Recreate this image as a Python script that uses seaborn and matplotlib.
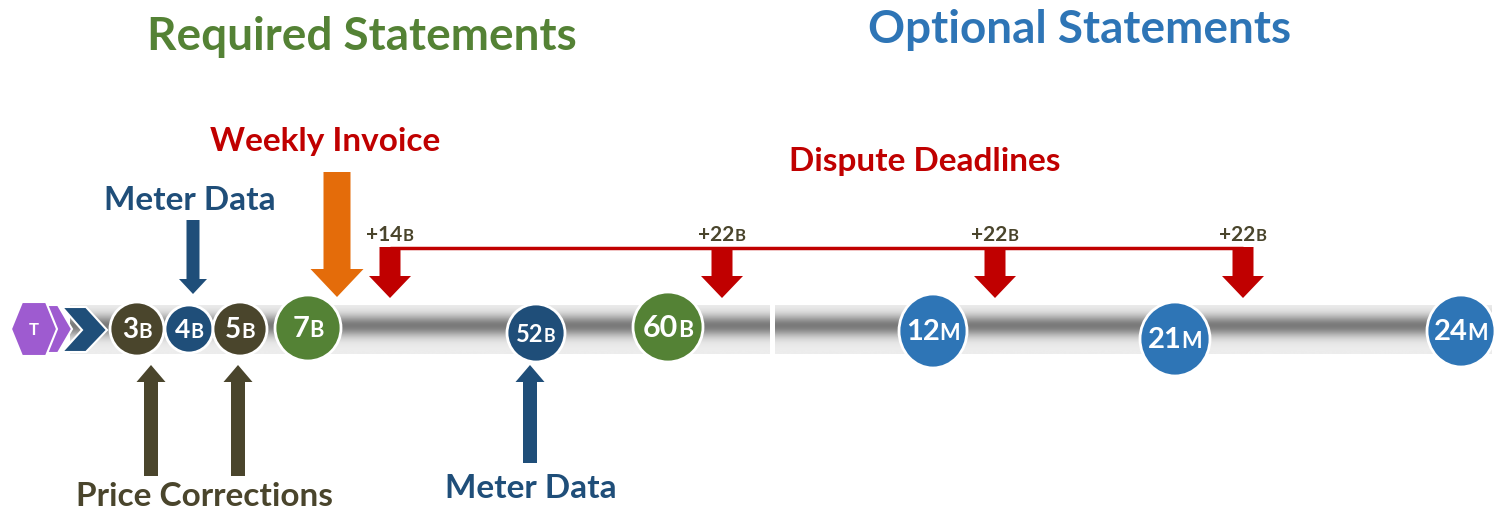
"""
Settlement timeline diagram: required vs optional statements,
meter data / price correction / invoice / dispute deadline call-outs.
"""

import numpy as np
import matplotlib.pyplot as plt
from matplotlib.patches import Polygon, Ellipse
from matplotlib.offsetbox import TextArea, HPacker, AnnotationBbox
import seaborn as sns


# ---------- Data ----------
MILESTONE_NUM = ["3", "4", "5", "7", "52", "60", "12", "21", "24"]
MILESTONE_UNIT = ["B", "B", "B", "B", "B", "B", "M", "M", "M"]
MILESTONE_KIND = ["price", "meter", "price", "required", "meter",
                  "required", "optional", "optional", "optional"]
# position along the timeline (diagram units)
MILESTONE_POS = [137, 189, 240, 308, 536, 668, 933, 1175, 1461]

DISPUTE_OFFSET = ["+14", "+22", "+22", "+22"]
DISPUTE_POS = [390, 722, 995, 1243]

# ---------- Style ----------
W, H = 1497, 516
GREEN = "#548235"
NAVY = "#1F4E79"
BROWN = "#4A452C"
ORANGE = "#E46C0A"
RED = "#C00000"
BLUE = "#2E75B6"
PURPLE = "#9E5BD0"
KIND_COLOR = {"price": BROWN, "meter": NAVY, "required": GREEN, "optional": BLUE}

CIRCLE_Y = [329, 329, 329, 328, 333, 327, 331, 339, 331]
CIRCLE_W = [54, 48, 54, 66, 58, 70, 68, 70, 68]
CIRCLE_H = [54, 48, 54, 66, 58, 70, 74, 74, 72]
NUM_SIZE = [20, 19, 20, 21, 17, 22, 21, 21, 21]

FONT = ["Lato", "DejaVu Sans"]


def setup_style():
    sns.set_theme(style="white")
    plt.rcParams["font.family"] = FONT


def block_arrow(ax, x, y0, y1, shaft_w, head_w, head_len, color):
    """Block arrow from y0 (tail) to y1 (tip), in diagram coords."""
    d = np.sign(y1 - y0)
    yh = y1 - d * head_len
    pts = [(x - shaft_w / 2, y0), (x + shaft_w / 2, y0), (x + shaft_w / 2, yh),
           (x + head_w / 2, yh), (x, y1), (x - head_w / 2, yh),
           (x - shaft_w / 2, yh)]
    ax.add_patch(Polygon(pts, closed=True, color=color, lw=0, zorder=4))


def mixed_label(ax, x, y, big, small, color, big_size, small_size, z=6):
    parts = [TextArea(big, textprops=dict(color=color, fontsize=big_size,
                                          fontweight="bold", family=FONT)),
             TextArea(small, textprops=dict(color=color, fontsize=small_size,
                                            fontweight="bold", family=FONT))]
    box = HPacker(children=parts, align="baseline", pad=0, sep=0)
    ab = AnnotationBbox(box, (x, y), frameon=False, box_alignment=(0.5, 0.5),
                        pad=0, zorder=z)
    ax.add_artist(ab)


def draw_bar(ax):
    # vertical grey gradient: light edges, darker middle
    t = np.linspace(0, 1, 100)
    shade = 0.93 - 0.45 * np.exp(-((t - 0.42) / 0.22) ** 2)
    grad = np.repeat(shade[:, None], 2, axis=1)
    for x0, x1 in [(70, 770), (775, 1492)]:
        ax.imshow(grad, extent=(x0, x1, 354, 305), cmap="gray", vmin=0, vmax=1,
                  aspect="auto", zorder=1, interpolation="bicubic")


def draw_start(ax):
    # purple chevron behind hexagon, navy chevron
    ax.add_patch(Polygon([(44, 305), (58, 305), (72, 329), (58, 353), (44, 353)],
                         color=PURPLE, ec="white", lw=1.5, zorder=3))
    ax.add_patch(Polygon([(62, 307), (86, 307), (107, 330), (86, 352), (62, 352),
                          (82, 330)], color=NAVY, ec="white", lw=1.5, zorder=3))
    hx = [(11, 329), (22, 302), (46, 302), (57, 329), (46, 356), (22, 356)]
    ax.add_patch(Polygon(hx, color=PURPLE, ec="white", lw=1.5, zorder=4))
    ax.text(34, 330, "T", color="white", fontsize=12, fontweight="bold",
            ha="center", va="center", zorder=5)


def main():
    setup_style()
    fig = plt.figure(figsize=(W / 100, H / 100), dpi=100)
    ax = fig.add_axes([0, 0, 1, 1])
    ax.set_xlim(0, W)
    ax.set_ylim(H, 0)
    ax.axis("off")

    draw_bar(ax)
    draw_start(ax)

    # milestones
    for i, (num, unit, kind, x) in enumerate(zip(MILESTONE_NUM, MILESTONE_UNIT,
                                                 MILESTONE_KIND, MILESTONE_POS)):
        ax.add_patch(Ellipse((x, CIRCLE_Y[i]), CIRCLE_W[i], CIRCLE_H[i],
                             color=KIND_COLOR[kind], ec="white", lw=2, zorder=5))
        mixed_label(ax, x, CIRCLE_Y[i] + 1, num, unit, "white",
                    NUM_SIZE[i], NUM_SIZE[i] * 0.75)

    # headings
    ax.text(362, 37, "Required Statements", color=GREEN, fontsize=33,
            fontweight="bold", ha="center", va="center")
    ax.text(1080, 30, "Optional Statements", color=BLUE, fontsize=33,
            fontweight="bold", ha="center", va="center")

    # call-outs
    ax.text(325, 142, "Weekly Invoice", color=RED, fontsize=24,
            fontweight="bold", ha="center", va="center")
    block_arrow(ax, 337, 172, 297, 27, 53, 28, ORANGE)

    ax.text(190, 200, "Meter Data", color=NAVY, fontsize=24,
            fontweight="bold", ha="center", va="center")
    block_arrow(ax, 193, 220, 294, 13, 28, 15, NAVY)

    ax.text(925, 162, "Dispute Deadlines", color=RED, fontsize=24,
            fontweight="bold", ha="center", va="center")

    ax.text(204, 497, "Price Corrections", color=BROWN, fontsize=24,
            fontweight="bold", ha="center", va="center")
    block_arrow(ax, 151, 476, 365, 14, 29, 17, BROWN)
    block_arrow(ax, 238, 476, 365, 14, 29, 17, BROWN)

    ax.text(531, 489, "Meter Data", color=NAVY, fontsize=24,
            fontweight="bold", ha="center", va="center")
    block_arrow(ax, 530, 463, 365, 14, 29, 17, NAVY)

    # dispute deadlines
    ax.plot([DISPUTE_POS[0], DISPUTE_POS[-1]], [248, 248], color=RED, lw=2.5,
            zorder=3, solid_capstyle="butt")
    for off, x in zip(DISPUTE_OFFSET, DISPUTE_POS):
        block_arrow(ax, x, 247, 298, 21, 42, 22, RED)
        mixed_label(ax, x, 235, off, "B", BROWN, 15, 12)

    fig.savefig("out.png", dpi=100)
    plt.close(fig)


if __name__ == "__main__":
    main()
